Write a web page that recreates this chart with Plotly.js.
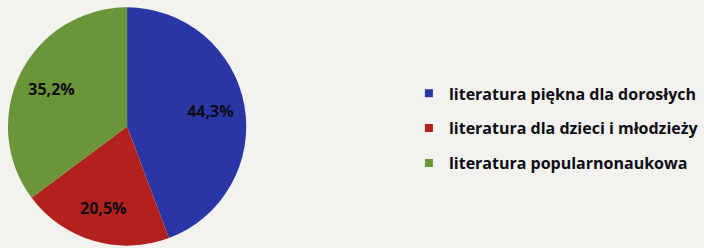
<!DOCTYPE html>
<html>
<head>
<meta charset="utf-8">
<script src="https://cdn.plot.ly/plotly-3.0.1.min.js"></script>
<style>html,body{margin:0;padding:0;background:#f3f2ee;}#chart{width:704px;height:248px;}</style>
</head>
<body>
<div id="chart"></div>
<script>
const categories = ['literatura piękna dla dorosłych', 'literatura dla dzieci i młodzieży', 'literatura popularnonaukowa'];
const shares = [44.3, 20.5, 35.2];
const colors = ['#2a36a6', '#b2211d', '#6b9539'];

const pieDomain = {x: [8/704, 248/704], y: [2/248, 241/248]};

// filled pie (no text)
const pie = {
  type: 'pie',
  labels: categories,
  values: shares,
  sort: false,
  direction: 'clockwise',
  rotation: 0,
  marker: {colors: colors, line: {width: 0}},
  textinfo: 'none',
  hoverinfo: 'label+percent',
  showlegend: false,
  domain: pieDomain
};

// transparent ring that carries the percentage labels further out
const pieLabels = {
  type: 'pie',
  labels: categories,
  values: shares,
  sort: false,
  direction: 'clockwise',
  rotation: 0,
  hole: 0.42,
  marker: {colors: ['rgba(0,0,0,0)', 'rgba(0,0,0,0)', 'rgba(0,0,0,0)'], line: {width: 0}},
  texttemplate: '%{percent:.1%}',
  textposition: 'inside',
  insidetextorientation: 'horizontal',
  textfont: {family: '"Open Sans", sans-serif', size: 16, color: '#0d0d14', weight: 'bold'},
  hoverinfo: 'skip',
  showlegend: false,
  domain: pieDomain
};

const legendTraces = categories.map((c, i) => ({
  type: 'scatter',
  mode: 'markers',
  x: [null], y: [null],
  name: c,
  legendgroup: 'g' + i,
  marker: {symbol: 'square', size: 8, color: colors[i]},
  showlegend: true,
  hoverinfo: 'skip'
}));

const layout = {
  width: 704, height: 248,
  margin: {l: 0, r: 0, t: 0, b: 0},
  paper_bgcolor: '#f3f2ee',
  plot_bgcolor: 'rgba(0,0,0,0)',
  separators: ', ',
  xaxis: {visible: false, range: [0, 1], domain: [0.99, 1]},
  yaxis: {visible: false, range: [0, 1], domain: [0.99, 1]},
  showlegend: true,
  legend: {
    x: 0.585, xanchor: 'left',
    y: 0.692, yanchor: 'top',
    traceorder: 'grouped',
    tracegroupgap: 11,
    itemwidth: 30,
    font: {family: '"Open Sans", sans-serif', size: 16, color: '#0d0d14', weight: 'bold'},
    bgcolor: 'rgba(0,0,0,0)'
  }
};

Plotly.newPlot('chart', [pie, pieLabels].concat(legendTraces), layout, {displayModeBar: false, staticPlot: true});
</script>
</body>
</html>
